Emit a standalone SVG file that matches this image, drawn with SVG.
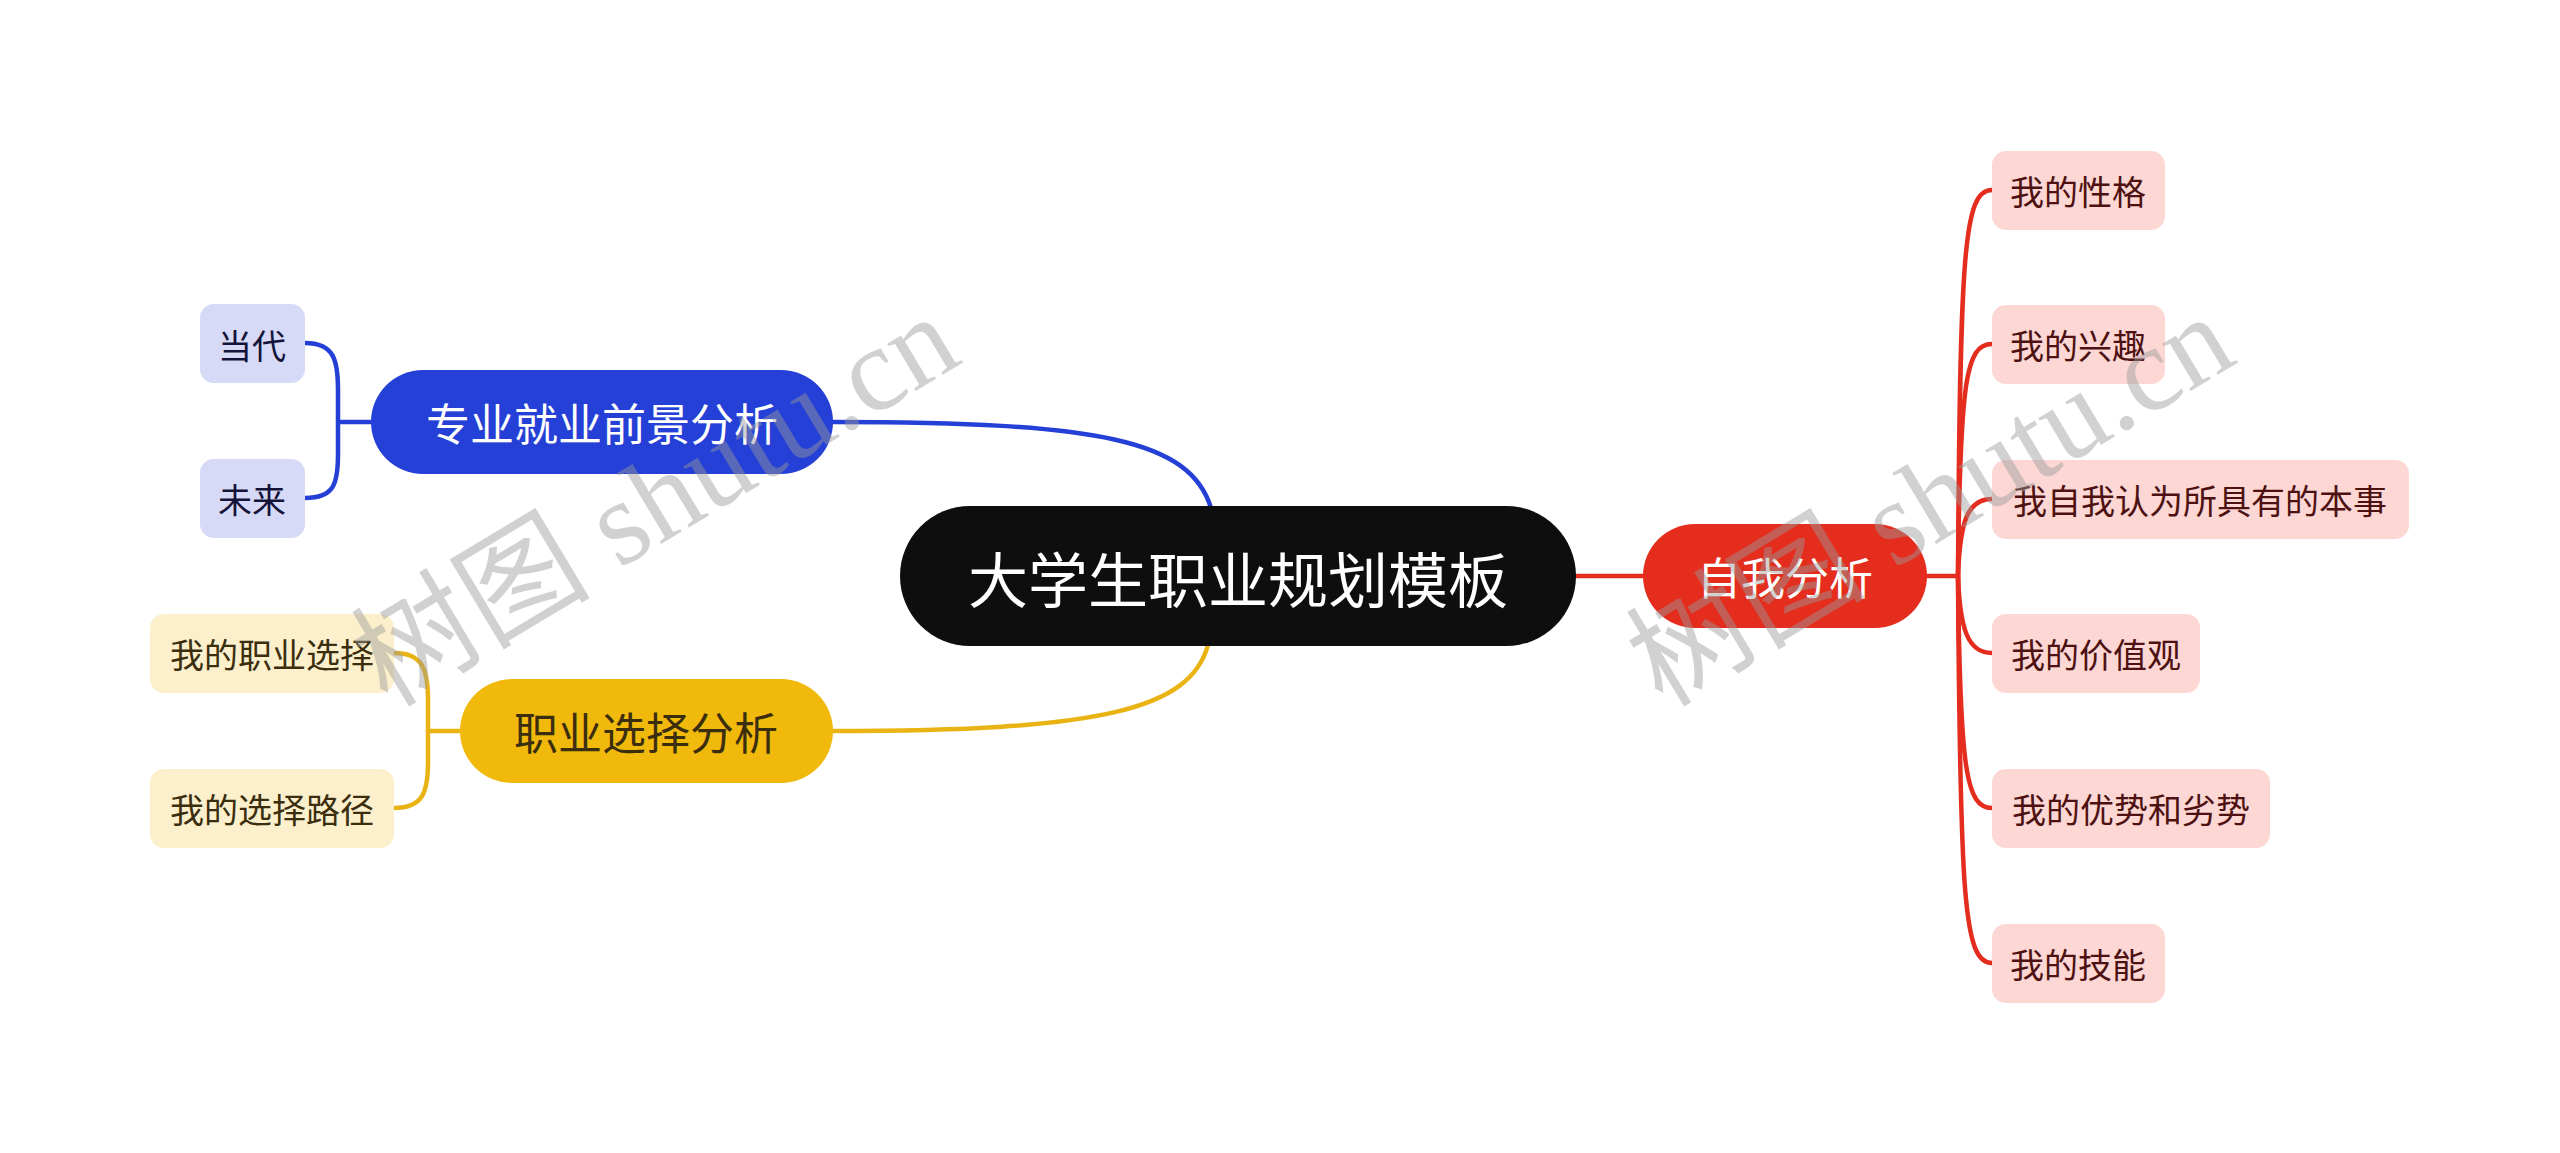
<svg xmlns="http://www.w3.org/2000/svg" width="2560" height="1153" viewBox="0 0 2560 1153">
<style>
text{font-family:"Noto Sans CJK SC","Noto Sans",sans-serif;text-anchor:middle;dominant-baseline:central}
.c{fill:none;stroke-width:4.5;stroke-linecap:round}
.blue{stroke:#2540d6}.yel{stroke:#e9b413}.red{stroke:#e42d1f}
.root rect{fill:#0e0e0e}.root text{fill:#fff;font-size:60px}
.l1 text{font-size:44px}
.leaf text{font-size:34px}
.bl rect{fill:#d6daf7}.bl text{fill:#14143a}
.yl rect{fill:#fcf0cc}.yl text{fill:#3b2e0e}
.rl rect{fill:#fcd7d4}.rl text{fill:#4e1111}
.wm{font-family:"Liberation Serif","Noto Sans CJK SC",serif;font-size:120px;fill:#9a9a9a;opacity:0.45;text-anchor:middle;dominant-baseline:alphabetic}
</style>
<rect width="2560" height="1153" fill="#fff"/>
<g id="connectors">
<path class="c blue" d="M833,422 C1100,422 1190,440 1211,508"/>
<path class="c blue" d="M338,422 L371,422"/>
<path class="c blue" d="M305,343 C334,343 338,360 338,390 L338,454 C338,484 334,498 305,498"/>
<path class="c yel" d="M833,731 C1100,731 1190,710 1208,645"/>
<path class="c yel" d="M428,731 L460,731"/>
<path class="c yel" d="M394,653 C423,653 428,670 428,700 L428,762 C428,792 423,808 394,808"/>
<path class="c red" d="M1576,576 L1643,576"/>
<path class="c red" d="M1927,576 L1958,576"/>
<path class="c red" d="M1958,576 C1960,250 1964,190 1992,190"/>
<path class="c red" d="M1958,576 C1960,380 1966,344 1992,344"/>
<path class="c red" d="M1958,576 C1960,520 1968,499 1992,499"/>
<path class="c red" d="M1958,576 C1960,630 1968,653 1992,653"/>
<path class="c red" d="M1958,576 C1960,770 1966,808 1992,808"/>
<path class="c red" d="M1958,576 C1960,900 1964,963 1992,963"/>
</g>
<g id="root" class="root"><rect x="900" y="506" width="676" height="140" rx="70"/><text x="1238" y="576">大学生职业规划模板</text></g>
<g id="n-self" class="l1"><rect x="1643" y="524" width="284" height="104" rx="52" fill="#e52d1e"/><text x="1785" y="576" fill="#fff">自我分析</text></g>
<g id="n-prospect" class="l1"><rect x="371" y="370" width="462" height="104" rx="52" fill="#2540d6"/><text x="602" y="422" fill="#fff">专业就业前景分析</text></g>
<g id="n-choice" class="l1"><rect x="460" y="679" width="373" height="104" rx="52" fill="#f0b90c"/><text x="646" y="731" fill="#3b2e0e">职业选择分析</text></g>
<g id="b-dangdai" class="leaf bl"><rect x="200" y="304" width="105" height="79" rx="14"/><text x="252" y="344">当代</text></g>
<g id="b-weilai" class="leaf bl"><rect x="200" y="459" width="105" height="79" rx="14"/><text x="252" y="498">未来</text></g>
<g id="y-zhiye" class="leaf yl"><rect x="150" y="614" width="244" height="79" rx="14"/><text x="272" y="653">我的职业选择</text></g>
<g id="y-lujing" class="leaf yl"><rect x="150" y="769" width="244" height="79" rx="14"/><text x="272" y="808">我的选择路径</text></g>
<g id="r-xingge" class="leaf rl"><rect x="1992" y="151" width="173" height="79" rx="14"/><text x="2078" y="190">我的性格</text></g>
<g id="r-xingqu" class="leaf rl"><rect x="1992" y="305" width="173" height="79" rx="14"/><text x="2078" y="344">我的兴趣</text></g>
<g id="r-benshi" class="leaf rl"><rect x="1992" y="460" width="417" height="79" rx="14"/><text x="2200" y="499">我自我认为所具有的本事</text></g>
<g id="r-jiazhi" class="leaf rl"><rect x="1992" y="614" width="208" height="79" rx="14"/><text x="2096" y="653">我的价值观</text></g>
<g id="r-youshi" class="leaf rl"><rect x="1992" y="769" width="278" height="79" rx="14"/><text x="2131" y="808">我的优势和劣势</text></g>
<g id="r-jineng" class="leaf rl"><rect x="1992" y="924" width="173" height="79" rx="14"/><text x="2078" y="963">我的技能</text></g>
<g id="watermark">
<text class="wm" transform="translate(676,535) rotate(-31)">树图 shutu.cn</text>
<text class="wm" transform="translate(1951,535) rotate(-31)">树图 shutu.cn</text>
</g>
</svg>
